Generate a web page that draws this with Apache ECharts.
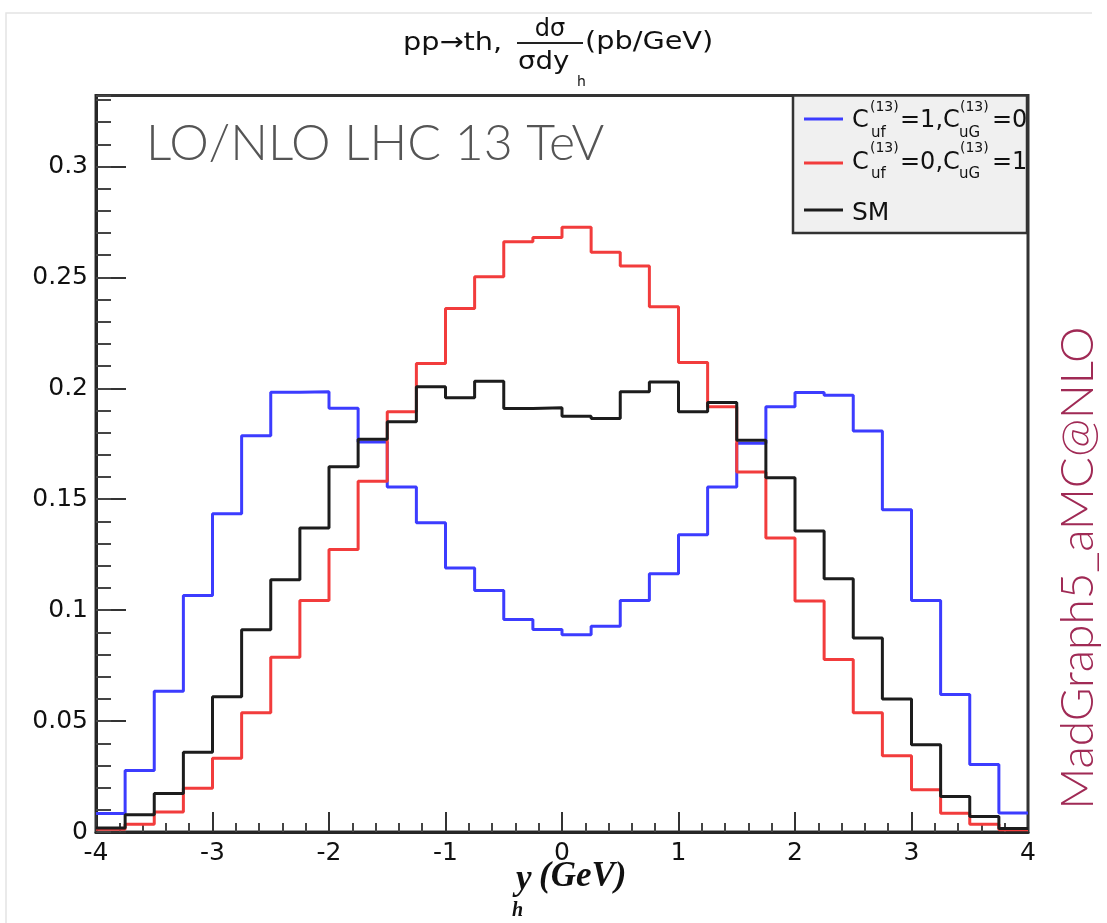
<!DOCTYPE html>
<html>
<head>
<meta charset="utf-8">
<script src="https://cdn.jsdelivr.net/npm/echarts@6/dist/echarts.min.js"></script>
<style>
  html, body { margin: 0; padding: 0; background: #ffffff; }
  #chart { width: 1107px; height: 923px; }
</style>
</head>
<body>
<div id="chart"></div>
<script>
// Higgs rapidity distribution in pp -> th, normalised (1/sigma) d(sigma)/dy_h, 32 bins of 0.25
const binEdges = [-4, -3.75, -3.5, -3.25, -3, -2.75, -2.5, -2.25, -2, -1.75, -1.5, -1.25, -1, -0.75, -0.5, -0.25,
                  0, 0.25, 0.5, 0.75, 1, 1.25, 1.5, 1.75, 2, 2.25, 2.5, 2.75, 3, 3.25, 3.5, 3.75, 4];

// C_uf = 1, C_uG = 0
const blueValues = [0.0083, 0.0277, 0.0635, 0.1066, 0.1435, 0.1786, 0.1982, 0.1985, 0.1910, 0.1758, 0.1555, 0.1394,
                    0.1190, 0.1089, 0.0958, 0.0913, 0.0889, 0.0928, 0.1044, 0.1164, 0.1340, 0.1555, 0.1752, 0.1917,
                    0.1981, 0.1969, 0.1808, 0.1453, 0.1044, 0.0620, 0.0304, 0.0086];
// C_uf = 0, C_uG = 1
const redValues = [0.0012, 0.0035, 0.0090, 0.0197, 0.0333, 0.0537, 0.0788, 0.1044, 0.1273, 0.1581, 0.1894, 0.2112,
                   0.2360, 0.2503, 0.2661, 0.2680, 0.2726, 0.2613, 0.2551, 0.2368, 0.2116, 0.1917, 0.1623, 0.1325,
                   0.1041, 0.0778, 0.0537, 0.0344, 0.0190, 0.0084, 0.0035, 0.0010];
// Standard Model
const blackValues = [0.0018, 0.0078, 0.0173, 0.0360, 0.0610, 0.0912, 0.1137, 0.1370, 0.1646, 0.1770, 0.1849, 0.2007,
                     0.1957, 0.2032, 0.1909, 0.1912, 0.1874, 0.1864, 0.1984, 0.2029, 0.1894, 0.1936, 0.1766, 0.1597,
                     0.1357, 0.1142, 0.0874, 0.0600, 0.0393, 0.0160, 0.0070, 0.0016];

const xTickLabels = ['-4', '-3', '-2', '-1', '0', '1', '2', '3', '4'];
const yTickValues = [0, 0.05, 0.1, 0.15, 0.2, 0.25, 0.3];
const yTickLabels = ['0', '0.05', '0.1', '0.15', '0.2', '0.25', '0.3'];

const seriesNames = ['Cuf=1,CuG=0', 'Cuf=0,CuG=1', 'SM'];
const seriesColors = ['#3c3cff', '#f23c3c', '#1c1c1c'];

// histogram outline: one point per lower bin edge, plus the closing upper edge
function histPoints(values) {
  const pts = values.map((v, i) => [binEdges[i], v]);
  pts.push([binEdges[binEdges.length - 1], values[values.length - 1]]);
  return pts;
}

const Y_MAX = 0.332;
const FONT = 'DejaVu Sans';

function txt(text, x, y, size, opts) {
  opts = opts || {};
  return {
    type: 'text', x: x, y: y, z: 100,
    scaleX: opts.scaleX || 1,
    rotation: opts.rotation || 0,
    style: {
      text: text,
      fontFamily: opts.family || FONT,
      fontSize: size,
      fontWeight: opts.weight || 'normal',
      fontStyle: opts.style || 'normal',
      fill: opts.color || '#111111',
      align: opts.align || 'left',
      verticalAlign: 'middle'
    }
  };
}

// legend entry "C^(13)_uf=a,C^(13)_uG=b" laid out with stacked super/subscripts
function coeffLabel(yc, a, b) {
  return [
    txt('C', 852, yc, 24),
    txt('(13)', 870, yc - 14, 14),
    txt('uf', 871, yc + 12, 15),
    txt('=' + a + ',C', 900, yc, 24),
    txt('(13)', 960, yc - 14, 14),
    txt('uG', 959, yc + 12, 15),
    txt('=' + b, 992, yc, 24)
  ];
}

const legendRows = [119, 163, 210];
const graphics = [
  // faint outer border of the figure
  { type: 'polyline', z: 1, shape: { points: [[6, 923], [6, 13], [1092, 13]] },
    style: { stroke: '#e4e4e4', lineWidth: 1.5, fill: null } },
  // title: pp->th, dsigma/(sigma dy_h) (pb/GeV)
  txt('pp\u2192th,', 403, 43, 25, { scaleX: 1.15 }),
  txt('d\u03c3', 550, 30, 24, { align: 'center' }),
  { type: 'line', z: 100, shape: { x1: 517, y1: 43, x2: 583, y2: 43 }, style: { stroke: '#222', lineWidth: 2 } },
  txt('\u03c3dy', 518, 63, 24, { scaleX: 1.15 }),
  txt('h', 577, 82, 14),
  txt('(pb/GeV)', 585, 42, 25, { scaleX: 1.15 }),
  // x axis title: y_h (GeV)
  txt('y', 516, 880, 35, { family: 'Liberation Serif', weight: 'bold', style: 'italic' }),
  txt('h', 512, 911, 20, { family: 'Liberation Serif', weight: 'bold', style: 'italic' }),
  txt('(GeV)', 539, 877, 35, { family: 'Liberation Serif', weight: 'bold', style: 'italic' }),
  // plot annotation and generator tag
  txt('LO/NLO LHC 13 TeV', 146, 144, 50, { family: 'Lato', weight: 300, color: '#555555' }),
  txt('MadGraph5_aMC@NLO', 1078, 568, 46, { family: 'Lato', weight: 300, color: '#a02a55', align: 'center',
                                           rotation: Math.PI / 2 }),
  // legend box
  { type: 'rect', z: 90, shape: { x: 793, y: 95.5, width: 234, height: 137.5 },
    style: { fill: '#f0f0f0', stroke: '#333333', lineWidth: 2.5 } }
];
legendRows.forEach((y, i) => {
  graphics.push({ type: 'line', z: 100, shape: { x1: 804, y1: y, x2: 843, y2: y },
                  style: { stroke: seriesColors[i], lineWidth: 3 } });
});
graphics.push(...coeffLabel(121, 1, 0));
graphics.push(...coeffLabel(162.5, 0, 1));
graphics.push(txt('SM', 852, 213, 25));

const axisLineStyle = { color: '#262626', width: 3 };

const option = {
  animation: false,
  backgroundColor: '#ffffff',
  grid: { left: 96, right: 79, top: 95.5, bottom: 91, show: true, borderColor: '#333333', borderWidth: 3,
          backgroundColor: 'transparent' },
  xAxis: {
    type: 'value', min: -4, max: 4, interval: 1,
    axisLine: { show: true, onZero: false, lineStyle: axisLineStyle },
    axisTick: { show: true, inside: true, length: 20, lineStyle: { color: '#333', width: 2 } },
    minorTick: { show: true, splitNumber: 5, length: 9, lineStyle: { color: '#444', width: 2 } },
    splitLine: { show: false },
    axisLabel: {
      margin: 9, fontFamily: FONT, fontSize: 25, color: '#111',
      formatter: v => xTickLabels[Math.round(v + 4)]
    }
  },
  yAxis: [
    {
      type: 'value', min: 0, max: Y_MAX, interval: 0.05, position: 'left',
      axisLine: { show: true, onZero: false, lineStyle: axisLineStyle },
      axisTick: { show: true, inside: true, length: 30, lineStyle: { color: '#333', width: 2 } },
      splitLine: { show: false },
      axisLabel: {
        margin: 8, fontFamily: FONT, fontSize: 25, color: '#111', showMaxLabel: false,
        formatter: v => {
          const i = yTickValues.findIndex(t => Math.abs(t - v) < 1e-9);
          return i < 0 ? '' : yTickLabels[i];
        }
      }
    },
    {
      // fine ticks every 0.01
      type: 'value', min: 0, max: Y_MAX, interval: 0.01, position: 'left', offset: 0,
      axisLine: { show: false, onZero: false },
      axisTick: { show: true, inside: true, length: 15, lineStyle: { color: '#444', width: 2 } },
      splitLine: { show: false },
      axisLabel: { show: false }
    }
  ],
  series: [blueValues, redValues, blackValues].map((vals, i) => ({
    name: seriesNames[i],
    type: 'line',
    step: 'end',
    yAxisIndex: 0,
    showSymbol: false,
    symbol: 'none',
    clip: true,
    data: histPoints(vals),
    lineStyle: { color: seriesColors[i], width: 3 },
    z: 10 + i
  })),
  graphic: graphics
};

const chart = echarts.init(document.getElementById('chart'), null, { renderer: 'canvas' });
chart.setOption(option);
</script>
</body>
</html>
